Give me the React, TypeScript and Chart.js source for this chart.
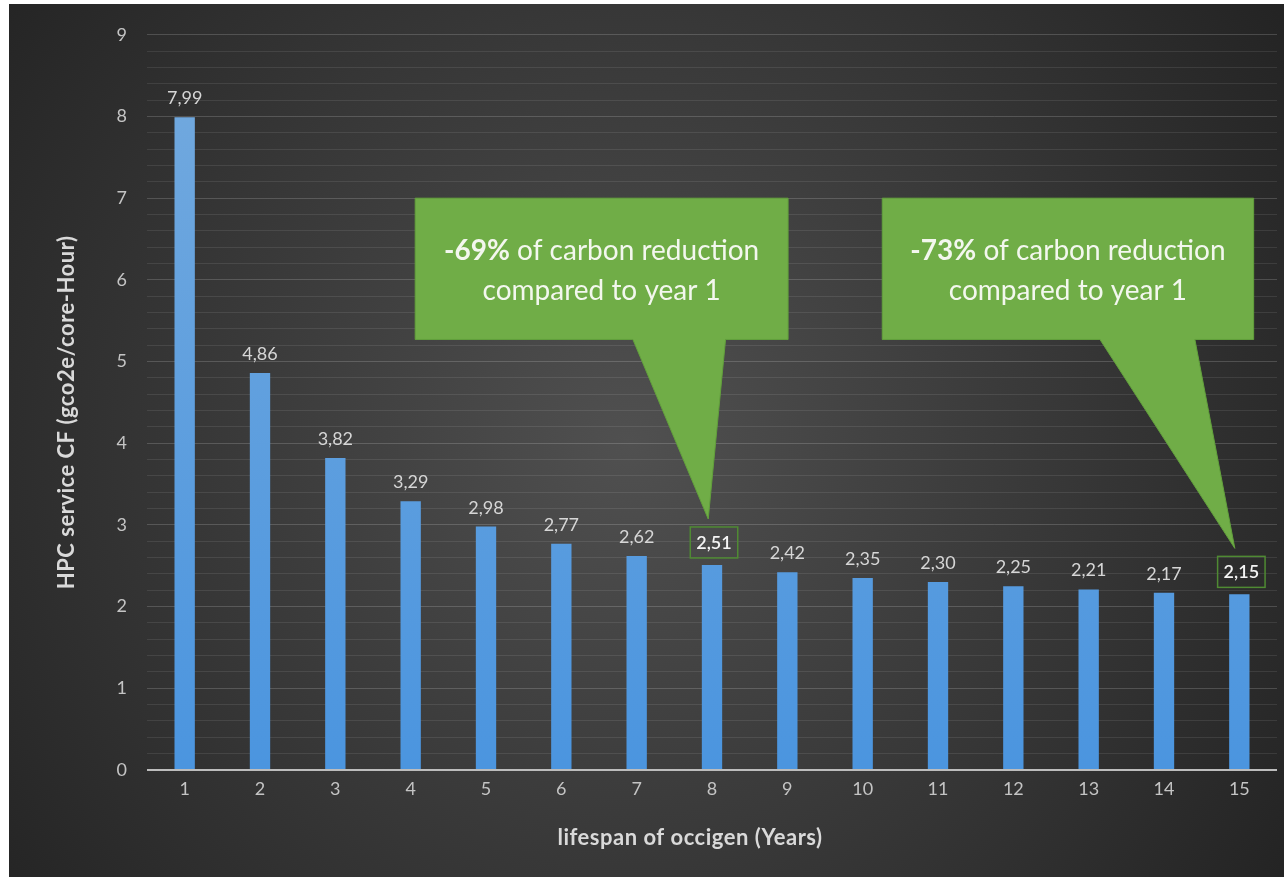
import React, { useEffect, useRef } from 'react';
import { Chart, registerables } from 'chart.js';

Chart.register(...registerables);

// ---- data ----
const YEARS = ['1', '2', '3', '4', '5', '6', '7', '8', '9', '10', '11', '12', '13', '14', '15'];
const CF_VALUES = [7.99, 4.86, 3.82, 3.29, 2.98, 2.77, 2.62, 2.51, 2.42, 2.35, 2.3, 2.25, 2.21, 2.17, 2.15];
const HIGHLIGHTED = [7, 14];
const CALLOUT_PCTS = ['-69%', '-73%'];
const CALLOUT_LINE1 = ' of carbon reduction';
const CALLOUT_LINE2 = 'compared to year 1';
const Y_TITLE = 'HPC service CF (gco2e/core-Hour)';
const X_TITLE = 'lifespan of occigen (Years)';

// callout geometry in category-index / value units
const CALLOUTS = [
  { target: 7, boxLeft: 3.06, boxRight: 8.01, baseLeft: 5.95, baseRight: 7.18, top: 7.0, bottom: 5.27, tipDx: -0.05 },
  { target: 14, boxLeft: 9.26, boxRight: 14.19, baseLeft: 12.15, baseRight: 13.41, top: 7.0, bottom: 5.27, tipDx: -0.06 },
];

const FONT = 'Lato, "Open Sans", sans-serif';
const fmt = (v: number) => v.toFixed(2).replace('.', ',');
const isInt = (v: number) => Math.abs(v - Math.round(v)) < 1e-6;

const bgPlugin = {
  id: 'bg',
  beforeDraw(chart: any) {
    const { ctx, width, height } = chart;
    ctx.save();
    const g = ctx.createRadialGradient(620, 440, 0, 620, 440, 780);
    g.addColorStop(0, '#505050');
    g.addColorStop(0.45, '#3c3c3c');
    g.addColorStop(1, '#242424');
    ctx.fillStyle = g;
    ctx.fillRect(0, 0, width, height);
    ctx.restore();
  },
};

const titlePlugin = {
  id: 'axisTitles',
  afterDraw(chart: any) {
    const { ctx, chartArea } = chart;
    ctx.save();
    ctx.fillStyle = '#d9d9d9';
    ctx.font = `bold 22px ${FONT}`;
    try {
      (ctx as any).letterSpacing = '0.5px';
    } catch (e) {}
    ctx.textAlign = 'center';
    ctx.textBaseline = 'middle';
    // x title
    const xc = (chartArea.left + chartArea.right) / 2 - 22;
    ctx.fillText(X_TITLE, xc, chartArea.bottom + 68);
    // y title
    ctx.translate(58, (chartArea.top + chartArea.bottom) / 2 + 10);
    ctx.rotate(-Math.PI / 2);
    ctx.fillText(Y_TITLE, 0, 0);
    ctx.restore();
  },
};

const labelPlugin = {
  id: 'valueLabels',
  afterDatasetsDraw(chart: any) {
    const { ctx } = chart;
    const meta = chart.getDatasetMeta(0);
    ctx.save();
    meta.data.forEach((bar: any, i: number) => {
      const hl = HIGHLIGHTED.includes(i);
      const text = fmt(CF_VALUES[i]);
      ctx.font = `${hl ? '600 ' : ''}18px ${FONT}`;
      ctx.textAlign = 'center';
      ctx.textBaseline = 'alphabetic';
      const y = bar.y - (hl ? 16 : 13);
      const x = bar.x + (hl ? 2 : 0);
      if (hl) {
        const w = ctx.measureText(text).width;
        ctx.strokeStyle = '#4f8a33';
        ctx.lineWidth = 1.5;
        ctx.strokeRect(x - w / 2 - 6, y - 22, w + 12, 31);
        ctx.fillStyle = '#f4f4f4';
      } else {
        ctx.fillStyle = '#d6d6d6';
      }
      ctx.fillText(text, x, y);
    });
    ctx.restore();
  },
};

const calloutPlugin = {
  id: 'callouts',
  afterDraw(chart: any) {
    const { ctx } = chart;
    const xs = chart.scales.x;
    const ys = chart.scales.y;
    const x0 = xs.getPixelForValue(0);
    const step = xs.getPixelForValue(1) - x0;
    const px = (i: number) => x0 + i * step;
    const meta = chart.getDatasetMeta(0);
    ctx.save();
    CALLOUTS.forEach((c, k) => {
      const L = px(c.boxLeft);
      const R = px(c.boxRight);
      const T = ys.getPixelForValue(c.top);
      const B = ys.getPixelForValue(c.bottom);
      const bar = meta.data[c.target];
      const tipX = px(c.target + c.tipDx);
      const tipY = bar.y - 16 - 22 - 8;
      ctx.beginPath();
      ctx.moveTo(L, T);
      ctx.lineTo(R, T);
      ctx.lineTo(R, B);
      ctx.lineTo(px(c.baseRight), B);
      ctx.lineTo(tipX, tipY);
      ctx.lineTo(px(c.baseLeft), B);
      ctx.lineTo(L, B);
      ctx.closePath();
      ctx.fillStyle = '#70ad47';
      ctx.fill();
      ctx.strokeStyle = '#62a03c';
      ctx.lineWidth = 1;
      ctx.stroke();

      const cx = (L + R) / 2;
      ctx.fillStyle = '#f3f7ee';
      ctx.textBaseline = 'alphabetic';
      ctx.textAlign = 'left';
      const boldFont = `bold 28px ${FONT}`;
      const regFont = `28px ${FONT}`;
      ctx.font = boldFont;
      const w1 = ctx.measureText(CALLOUT_PCTS[k]).width;
      ctx.font = regFont;
      const w2 = ctx.measureText(CALLOUT_LINE1).width;
      const sx = cx - (w1 + w2) / 2;
      ctx.font = boldFont;
      ctx.fillText(CALLOUT_PCTS[k], sx, T + 62);
      ctx.font = regFont;
      ctx.fillText(CALLOUT_LINE1, sx + w1, T + 62);
      ctx.textAlign = 'center';
      ctx.fillText(CALLOUT_LINE2, cx, T + 102);
    });
    ctx.restore();
  },
};

export default function App() {
  const ref = useRef<HTMLCanvasElement>(null);
  useEffect(() => {
    let chart: any = null;
    let cancelled = false;
    const make = () => {
      if (cancelled || !ref.current) return;
      chart = new Chart(ref.current, {
        type: 'bar',
        data: {
          labels: YEARS,
          datasets: [
            {
              data: CF_VALUES,
              backgroundColor: (c: any) => {
                const area = c.chart.chartArea;
                if (!area) return '#5b9bd5';
                const g = c.chart.ctx.createLinearGradient(0, area.top, 0, area.bottom);
                g.addColorStop(0, '#74aade');
                g.addColorStop(1, '#4b95df');
                return g;
              },
              borderWidth: 0,
              barPercentage: 0.27,
              categoryPercentage: 1,
            },
          ],
        },
        options: {
          responsive: false,
          animation: false,
          devicePixelRatio: 1,
          layout: { padding: { left: 0, right: 7, top: 27, bottom: 0 } },
          plugins: { legend: { display: false }, tooltip: { enabled: false } },
          scales: {
            x: {
              grid: { display: false, drawTicks: false },
              border: { display: false },
              ticks: { color: '#c4c4c4', font: { family: FONT, size: 18 }, padding: 8 },
              title: { display: false, text: X_TITLE },
              afterFit: (s: any) => {
                s.height = 107;
              },
            },
            y: {
              min: 0,
              max: 9,
              ticks: {
                stepSize: 0.2,
                autoSkip: false,
                color: '#c4c4c4',
                font: { family: FONT, size: 18 },
                padding: 20,
                callback: (v: any) => (isInt(Number(v)) ? String(Math.round(Number(v))) : ''),
              },
              grid: {
                drawTicks: false,
                color: (c: any) => {
                  const v = c.tick ? c.tick.value : 1;
                  if (Math.abs(v) < 1e-6) return '#bdbdbd';
                  return isInt(v) ? 'rgba(255,255,255,0.17)' : 'rgba(255,255,255,0.09)';
                },
                lineWidth: (c: any) => (c.tick && Math.abs(c.tick.value) < 1e-6 ? 2 : 1),
              },
              border: { display: false },
              title: { display: false, text: Y_TITLE },
              afterFit: (s: any) => {
                s.width = 138;
              },
            },
          },
        },
        plugins: [bgPlugin, labelPlugin, titlePlugin, calloutPlugin],
      } as any);
    };
    const fonts = (document as any).fonts;
    if (fonts && fonts.load) {
      Promise.all([
        fonts.load(`18px Lato`),
        fonts.load(`bold 18px Lato`),
        fonts.load(`600 18px Lato`),
      ])
        .catch(() => {})
        .then(make);
    } else make();
    return () => {
      cancelled = true;
      if (chart) chart.destroy();
    };
  }, []);
  return (
    <div style={{ position: 'fixed', left: 9, top: 4 }}>
      <canvas ref={ref} width={1275} height={873} style={{ display: 'block', width: 1275, height: 873 }} />
    </div>
  );
}
